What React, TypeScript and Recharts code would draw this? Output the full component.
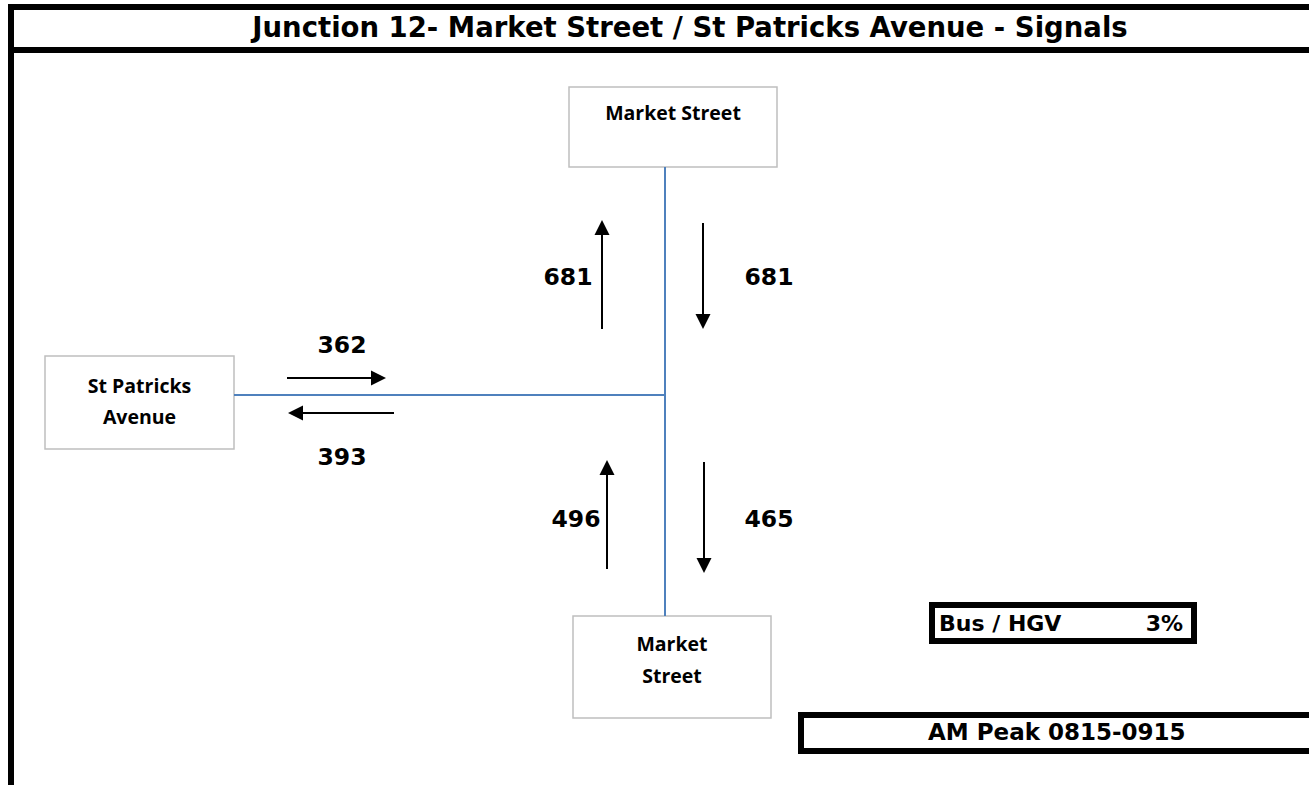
import React from 'react';
import { ScatterChart, Scatter, XAxis, YAxis, ReferenceLine, ReferenceArea } from 'recharts';

const W = 1309;
const H = 785;

const TITLE = 'Junction 12- Market Street / St Patricks Avenue - Signals';
const PERIOD = 'AM Peak 0815-0915';
const HGV_LABEL = 'Bus / HGV';
const HGV_SHARE = '3%';

// flows on each arm (vehicles, AM peak hour)
const arms = ['Market Street (N)', 'Market Street (N)', 'St Patricks Avenue', 'St Patricks Avenue', 'Market Street (S)', 'Market Street (S)'];
const directions = ['north', 'south', 'east', 'west', 'north', 'south'];
const volumes = [681, 681, 362, 393, 496, 465];

// where each arrow sits in the diagram (tip point, shaft length, label spot)
const arrowLayout = [
  { x: 602, y: 220, len: 109, lx: 568, ly: 285 },
  { x: 703, y: 329, len: 106, lx: 769, ly: 285 },
  { x: 386, y: 378, len: 99, lx: 342, ly: 353 },
  { x: 288, y: 413, len: 106, lx: 342, ly: 465 },
  { x: 607, y: 460, len: 109, lx: 576, ly: 527 },
  { x: 704, y: 573, len: 111, lx: 769, ly: 527 },
];

const armBoxes = [
  { name: 'north', lines: ['Market Street'], x1: 569, x2: 777, y1: 87, y2: 167, first: 33, gap: 0 },
  { name: 'west', lines: ['St Patricks', 'Avenue'], x1: 45, x2: 234, y1: 356, y2: 449, first: 37, gap: 31 },
  { name: 'south', lines: ['Market', 'Street'], x1: 573, x2: 771, y1: 616, y2: 718, first: 35, gap: 32 },
];

const flowData = volumes.map((v, i) => ({
  arm: arms[i],
  dir: directions[i],
  volume: v,
  ...arrowLayout[i],
}));

const ROAD = '#4f81bd';
const BOX_FONT = "'Open Sans', 'Noto Sans', sans-serif";
const BOLD_FONT = "'DejaVu Sans', Verdana, sans-serif";

const vec: Record<string, [number, number]> = {
  north: [0, -1],
  south: [0, 1],
  east: [1, 0],
  west: [-1, 0],
};

const FlowArrow = (props: any) => {
  const { cx, cy, payload } = props;
  if (cx == null || cy == null) return null;
  const [dx, dy] = vec[payload.dir];
  const head = 15;
  const half = 7.5;
  const tailX = cx - dx * payload.len;
  const tailY = cy - dy * payload.len;
  const baseX = cx - dx * head;
  const baseY = cy - dy * head;
  // perpendicular
  const px = -dy;
  const py = dx;
  const pts = `${cx},${cy} ${baseX + px * half},${baseY + py * half} ${baseX - px * half},${baseY - py * half}`;
  return (
    <g>
      <line x1={tailX} y1={tailY} x2={baseX} y2={baseY} stroke="#000" strokeWidth={2} />
      <polygon points={pts} fill="#000" />
      <text
        x={cx + (payload.lx - payload.x)}
        y={cy + (payload.ly - payload.y)}
        textAnchor="middle"
        fontFamily={BOLD_FONT}
        fontWeight={700}
        fontSize={23.5}
        fill="#000"
      >
        {payload.volume}
      </text>
    </g>
  );
};

const boxLabel = (lines: string[], first: number, gap: number) => (p: any) => {
  const { x, y, width } = p.viewBox;
  return (
    <text textAnchor="middle" fontFamily={BOX_FONT} fontWeight={700} fontSize={19.5} fill="#000">
      {lines.map((t, i) => (
        <tspan key={t} x={x + width / 2} y={y + first + i * gap}>
          {t}
        </tspan>
      ))}
    </text>
  );
};

const titleLabel = (p: any) => {
  const { y } = p.viewBox;
  return (
    <text x={690} y={y + 27} textAnchor="middle" fontFamily={BOLD_FONT} fontWeight={700} fontSize={27.5} fill="#000">
      {TITLE}
    </text>
  );
};

const hgvLabel = (p: any) => {
  const { x, y, width } = p.viewBox;
  return (
    <g fontFamily={BOLD_FONT} fontWeight={700} fontSize={22} fill="#000">
      <text x={x + 7} y={y + 26}>{HGV_LABEL}</text>
      <text x={x + width - 11} y={y + 26} textAnchor="end">{HGV_SHARE}</text>
    </g>
  );
};

const periodLabel = (p: any) => {
  const { x, y } = p.viewBox;
  return (
    <text x={x + 127} y={y + 25} fontFamily={BOLD_FONT} fontWeight={700} fontSize={23} fill="#000">
      {PERIOD}
    </text>
  );
};

export default function App() {
  return (
    <div style={{ position: 'absolute', left: 0, top: 0, width: W, height: H, background: '#fff' }}>
      <ScatterChart width={W} height={H} margin={{ top: 0, right: 0, bottom: 0, left: 0 }}>
        <XAxis type="number" dataKey="x" domain={[0, W]} hide allowDataOverflow />
        <YAxis type="number" dataKey="y" domain={[0, H]} reversed hide allowDataOverflow />

        {/* title bar */}
        <ReferenceArea x1={14} x2={W} y1={10} y2={47} fill="#fff" fillOpacity={1} stroke="none" label={titleLabel} ifOverflow="visible" />
        <ReferenceLine segment={[{ x: 8, y: 7 }, { x: W, y: 7 }]} stroke="#000" strokeWidth={6} ifOverflow="visible" />
        <ReferenceLine segment={[{ x: 11, y: 4 }, { x: 11, y: H }]} stroke="#000" strokeWidth={6} ifOverflow="visible" />
        <ReferenceLine segment={[{ x: 11, y: 50 }, { x: W, y: 50 }]} stroke="#000" strokeWidth={6} ifOverflow="visible" />

        {/* roads */}
        <ReferenceLine segment={[{ x: 665, y: 167 }, { x: 665, y: 616 }]} stroke={ROAD} strokeWidth={2} ifOverflow="visible" />
        <ReferenceLine segment={[{ x: 234, y: 395 }, { x: 666, y: 395 }]} stroke={ROAD} strokeWidth={2} ifOverflow="visible" />

        {armBoxes.map((b) => (
          <ReferenceArea
            key={b.name}
            x1={b.x1}
            x2={b.x2}
            y1={b.y1}
            y2={b.y2}
            fill="#fff"
            fillOpacity={1}
            stroke="#bfbfbf"
            strokeWidth={1.5}
            label={boxLabel(b.lines, b.first, b.gap)}
            ifOverflow="visible"
          />
        ))}

        <ReferenceArea x1={932} x2={1194} y1={605} y2={641} fill="#fff" fillOpacity={1} stroke="#000" strokeWidth={6} label={hgvLabel} ifOverflow="visible" />
        <ReferenceArea x1={801} x2={1320} y1={715} y2={751} fill="#fff" fillOpacity={1} stroke="#000" strokeWidth={6} label={periodLabel} ifOverflow="visible" />

        <Scatter data={flowData} shape={<FlowArrow />} isAnimationActive={false} />
      </ScatterChart>
    </div>
  );
}
